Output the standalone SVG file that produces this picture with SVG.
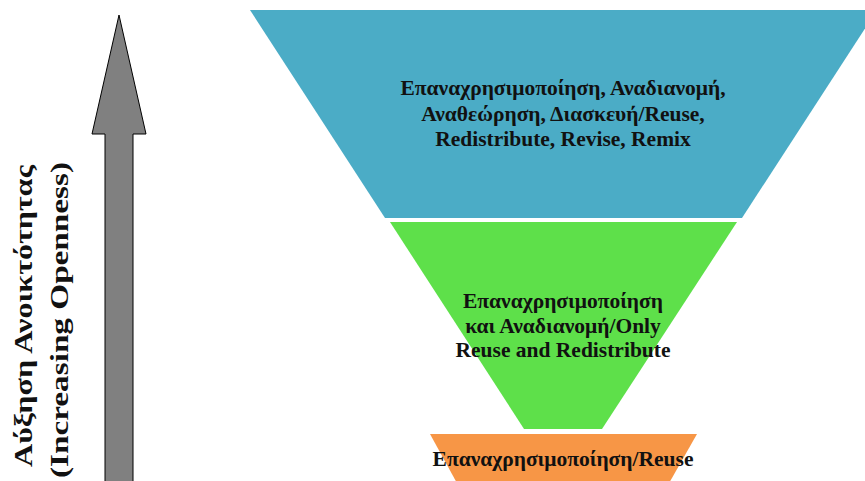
<svg xmlns="http://www.w3.org/2000/svg" width="865" height="481" viewBox="0 0 865 481">
<style>
text{font-family:'Liberation Serif','DejaVu Serif',serif;font-weight:700;fill:#111;text-anchor:middle}
.m{font-size:21.5px}
.v{font-size:26px}
</style>
<rect width="865" height="481" fill="#fff"/>
<g id="arrow">
<polygon points="119,15 146,134 133,134 133,485 105,485 105,134 92,134" fill="#808080" stroke="#000" stroke-width="1"/>
</g>
<g id="axis-label">
<text class="v" transform="translate(32,316) rotate(-90)" textLength="302" lengthAdjust="spacingAndGlyphs">Αύξηση Ανοικτότητας</text>
<text class="v" transform="translate(68,320) rotate(-90)" textLength="316" lengthAdjust="spacingAndGlyphs">(Increasing Openness)</text>
</g>
<g id="level-top">
<polygon points="250,10 877,10 742,218 385,218" fill="#4BACC6"/>
<text class="m" x="563" y="95">Επαναχρησιμοποίηση, Αναδιανομή,</text>
<text class="m" x="563" y="121">Αναθεώρηση, Διασκευή/Reuse,</text>
<text class="m" x="563" y="146">Redistribute, Revise, Remix</text>
</g>
<g id="level-middle">
<polygon points="390,222 737,222 602,429 524,429" fill="#5EE04A"/>
<text class="m" x="563" y="308">Επαναχρησιμοποίηση</text>
<text class="m" x="563" y="333">και Αναδιανομή/Only</text>
<text class="m" x="563" y="357">Reuse and Redistribute</text>
</g>
<g id="level-bottom">
<polygon points="430,434 697,434 668,485 458,485" fill="#F79646"/>
<text class="m" x="563" y="466">Επαναχρησιμοποίηση/Reuse</text>
</g>
<g id="connectors"></g>
</svg>
